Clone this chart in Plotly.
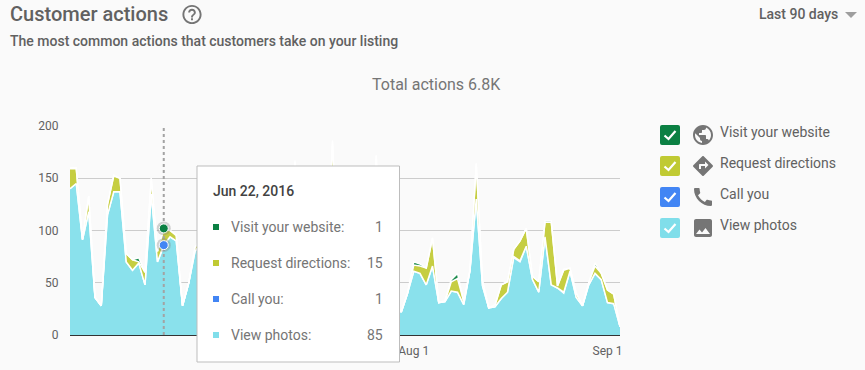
import base64
import pandas as pd
import plotly.graph_objects as go

W, H = 865, 370

start_date = "2016-06-07"
series_names = ["Visit your website", "Request directions", "Call you", "View photos"]
series_colors = ["#0b8043", "#c0ca33", "#4285f4", "#80deea"]
area_colors = ["#1a8a4c", "#c6ce42", "#4f8ef5", "#8ae1ec"]

photos = [140,145,91,118,36,28,115,137,137,70,62,69,48,135,70,85,94,90,28,50,80,
          88,62,95,110,78,54,70,102,120,84,60,48,76,98,40,140,45,88,90,125,40,150,40,96,52,78,125,40,145,35,44,30,
          22,40,61,59,48,66,31,32,42,41,29,62,130,47,26,27,35,41,74,70,85,53,41,94,48,45,40,61,36,28,48,59,53,31,30,8]
call = [0]*15 + [1] + [0]*5 + \
       [0,1,0,0,0,0,1,0,0,0,0,0,1,0,0,0,0,0,0,0,0,1,0,0,0,0,0,0,0,0,0,0] + \
       [0]*18 + [1,1] + [0]*6 + [1] + [0]*9
directions = [19,14,1,15,0,0,10,15,13,8,10,1,12,15,10,15,6,5,0,0,4,
              5,3,8,10,6,2,4,9,12,5,3,2,6,8,4,26,6,3,7,10,5,34,8,4,3,6,9,5,26,4,2,0,
              0,0,6,7,16,27,0,0,9,13,3,0,34,5,0,1,13,10,7,19,17,3,10,14,60,2,21,3,4,0,2,7,6,12,9,0]
website = [1,1,0,0,0,0,0,1,0,0,0,4,0,0,0,1,0,1,0,0,0,
           0,0,0,1,0,0,0,0,1,0,0,0,0,0,0,1,0,0,0,1,0,1,0,0,0,0,1,0,1,0,0,0,
           0,0,3,2,0,0,0,1,2,5,0,0,0,0,0,1,0,0,0,0,0,0,0,1,1,0,1,0,0,0,0,3,0,0,0,0]
assert len(photos) == len(call) == len(directions) == len(website) == 89

tick_dates = ["2016-08-01", "2016-09-01"]
tick_labels = ["Aug 1", "Sep 1"]
y_ticks = [0, 50, 100, 150, 200]
hover_date = "2016-06-22"
hover_label = "Jun 22, 2016"

dates = pd.date_range(start_date, periods=len(photos))
hover_i = list(dates.strftime("%Y-%m-%d")).index(hover_date)

def fx(x): return x / W
def fy(y): return 1 - y / H

fig = go.Figure()
for name, vals, col in [("View photos", photos, area_colors[3]), ("Call you", call, area_colors[2]),
                        ("Request directions", directions, area_colors[1]), ("Visit your website", website, area_colors[0])]:
    fig.add_trace(go.Scatter(x=dates, y=vals, name=name, mode="lines", stackgroup="one",
                             fillcolor=col, line=dict(color="white", width=1.5), hoverinfo="skip"))

# crosshair + hover dots
fig.add_trace(go.Scatter(x=[hover_date, hover_date], y=[y_ticks[0], y_ticks[-1]], mode="lines",
                         line=dict(color="#a3a3a3", width=2, dash="3px,3px"), hoverinfo="skip"))
dot_y = [photos[hover_i] + call[hover_i],
         photos[hover_i] + call[hover_i] + directions[hover_i] + website[hover_i]]
fig.add_trace(go.Scatter(x=[hover_date]*2, y=dot_y, mode="markers",
                         marker=dict(size=14, color="rgba(130,130,130,0.35)"), hoverinfo="skip"))
fig.add_trace(go.Scatter(x=[hover_date]*2, y=dot_y, mode="markers",
                         marker=dict(size=9, color=[series_colors[2], series_colors[0]],
                                     line=dict(color="white", width=1)), hoverinfo="skip"))

shapes, annos, images = [], [], []

def text(x, y, s, size=14, color="#757575", weight=400, anchor="left"):
    nudge = {"left": -1, "right": 1, "center": 0}[anchor]
    annos.append(dict(x=fx(x + nudge), y=fy(y), xref="paper", yref="paper", text=s, showarrow=False,
                      xanchor=anchor, yanchor="middle", borderpad=0,
                      font=dict(family="Roboto", size=size, color=color, weight=weight)))

def icon(x, y, size, d, color="#757575"):
    svg = f'<svg xmlns="http://www.w3.org/2000/svg" width="{size}" height="{size}" viewBox="0 0 24 24"><path fill="{color}" d="{d}"/></svg>'
    src = "data:image/svg+xml;base64," + base64.b64encode(svg.encode()).decode()
    images.append(dict(source=src, xref="paper", yref="paper", x=fx(x), y=fy(y), sizex=size / W, sizey=size / H,
                       xanchor="left", yanchor="top", sizing="stretch", layer="above"))

def rrect(x0, y0, x1, y1, r):
    X, Y = fx, fy
    return (f"M{X(x0+r)},{Y(y0)} L{X(x1-r)},{Y(y0)} Q{X(x1)},{Y(y0)} {X(x1)},{Y(y0+r)} "
            f"L{X(x1)},{Y(y1-r)} Q{X(x1)},{Y(y1)} {X(x1-r)},{Y(y1)} L{X(x0+r)},{Y(y1)} "
            f"Q{X(x0)},{Y(y1)} {X(x0)},{Y(y1-r)} L{X(x0)},{Y(y0+r)} Q{X(x0)},{Y(y0)} {X(x0+r)},{Y(y0)} Z")

# header
text(10, 14, "Customer actions", size=20, color="#616161", weight=500)
text(10, 41, "The most common actions that customers take on your listing", size=14, color="#616161", weight=500)
text(436, 84, "Total actions 6.8K", size=16, color="#757575", anchor="center")
text(838, 14, "Last 90 days", size=14, color="#616161", weight=500, anchor="right")
shapes.append(dict(type="path", xref="paper", yref="paper", layer="above", line=dict(width=0), fillcolor="#9e9e9e",
                   path=f"M{fx(845)},{fy(12)} L{fx(857)},{fy(12)} L{fx(851)},{fy(18)} Z"))

HELP = "M11 18h2v-2h-2v2zm1-16C6.48 2 2 6.48 2 12s4.48 10 10 10 10-4.48 10-10S17.52 2 12 2zm0 18c-4.41 0-8-3.59-8-8s3.59-8 8-8 8 3.59 8 8-3.59 8-8 8zm0-14c-2.21 0-4 1.79-4 4h2c0-1.1.9-2 2-2s2 .9 2 2c0 2-3 1.75-3 5h2c0-2.25 3-2.5 3-5 0-2.21-1.79-4-4-4z"
icon(180.5, 3, 23, HELP)

# legend
ICONS = [
    "M12 2C6.48 2 2 6.48 2 12s4.48 10 10 10 10-4.48 10-10S17.52 2 12 2zm-1 17.93c-3.95-.49-7-3.85-7-7.93 0-.62.08-1.21.21-1.79L9 15v1c0 1.1.9 2 2 2v1.93zm6.9-2.54c-.26-.81-1-1.39-1.9-1.39h-1v-3c0-.55-.45-1-1-1H8v-2h2c.55 0 1-.45 1-1V7h2c1.1 0 2-.9 2-2v-.41c2.93 1.19 5 4.06 5 7.41 0 2.08-.8 3.97-2.1 5.39z",
    "M21.71 11.29l-9-9c-.39-.39-1.02-.39-1.41 0l-9 9c-.39.39-.39 1.02 0 1.41l9 9c.39.39 1.02.39 1.41 0l9-9c.39-.38.39-1.01 0-1.41zM14 14.5V12h-4v3H8v-4c0-.55.45-1 1-1h5V7.5l3.5 3.5-3.5 3.5z",
    "M20.01 15.38c-1.23 0-2.42-.2-3.53-.56-.35-.12-.74-.03-1.01.24l-1.57 1.97c-2.83-1.35-5.48-3.9-6.89-6.83l1.95-1.66c.27-.28.35-.67.24-1.02-.37-1.11-.56-2.3-.56-3.53 0-.54-.45-.99-.99-.99H4.19C3.65 3 3 3.24 3 3.99 3 13.28 10.73 21 20.01 21c.71 0 .99-.63.99-1.18v-3.45c0-.54-.45-.99-.99-.99z",
    "M21 19V5c0-1.1-.9-2-2-2H5c-1.1 0-2 .9-2 2v14c0 1.1.9 2 2 2h14c1.1 0 2-.9 2-2zM8.5 13.5l2.5 3.01L14.5 12l4.5 6H5l3.5-4.5z",
]
for k, (name, col, d) in enumerate(zip(series_names, series_colors, ICONS)):
    top = 125 + 31 * k
    shapes.append(dict(type="path", xref="paper", yref="paper", layer="above", line=dict(width=0),
                       fillcolor=col, path=rrect(660, top, 680, top + 20, 2)))
    shapes.append(dict(type="path", xref="paper", yref="paper", layer="above",
                       line=dict(color="white", width=2.2), fillcolor="rgba(0,0,0,0)",
                       path=f"M{fx(664.5)},{fy(top+10.5)} L{fx(668.5)},{fy(top+14)} L{fx(675.5)},{fy(top+6)}"))
    icon(691, top - 2, 24, d)
    text(720, top + 7, name, size=14, color="#616161")

# tooltip
shapes.append(dict(type="rect", xref="paper", yref="paper", layer="above",
                   x0=fx(197), x1=fx(399.5), y0=fy(362), y1=fy(166),
                   fillcolor="white", line=dict(color="#bdbdbd", width=1)))
text(213, 191, hover_label, size=14, color="#424242", weight=500)
tip_values = [website[hover_i], directions[hover_i], call[hover_i], photos[hover_i]]
for k, (name, col, v) in enumerate(zip(series_names, series_colors, tip_values)):
    yc = 227 + 36 * k
    shapes.append(dict(type="rect", xref="paper", yref="paper", layer="above", line=dict(width=0), fillcolor=col,
                       x0=fx(213), x1=fx(219), y0=fy(yc + 3), y1=fy(yc - 3)))
    text(231, yc, name + ":", size=14, color="#757575")
    text(383, yc, str(v), size=14, color="#757575", anchor="right")

fig.update_layout(
    width=W, height=H, autosize=False, margin=dict(l=0, r=0, t=0, b=0, pad=0),
    paper_bgcolor="#fafafa", plot_bgcolor="#fafafa", showlegend=False,
    font=dict(family="Roboto", size=12, color="#616161"),
    shapes=shapes, annotations=annos, images=images,
    xaxis=dict(type="date", domain=[fx(70), fx(620)], range=[dates[0], dates[-1]], tickmode="array",
               tickvals=tick_dates, ticktext=tick_labels, showgrid=False, zeroline=False, showline=True,
               linecolor="#333333", linewidth=1, ticks="outside", ticklen=5, tickcolor="rgba(0,0,0,0)",
               tickfont=dict(size=12, color="#616161"), fixedrange=True, automargin=False),
    yaxis=dict(domain=[fy(335), fy(126)], range=[y_ticks[0], y_ticks[-1]], tickmode="array", tickvals=y_ticks,
               showgrid=True, gridcolor="#cccccc", gridwidth=1, zeroline=False, showline=False,
               ticks="outside", ticklen=8, tickcolor="rgba(0,0,0,0)",
               tickfont=dict(size=12, color="#616161"), fixedrange=True, automargin=False),
)
fig.write_html("out.html", config=dict(displayModeBar=False),
               post_script="document.body.style.margin='0';document.documentElement.style.overflow='hidden';")
